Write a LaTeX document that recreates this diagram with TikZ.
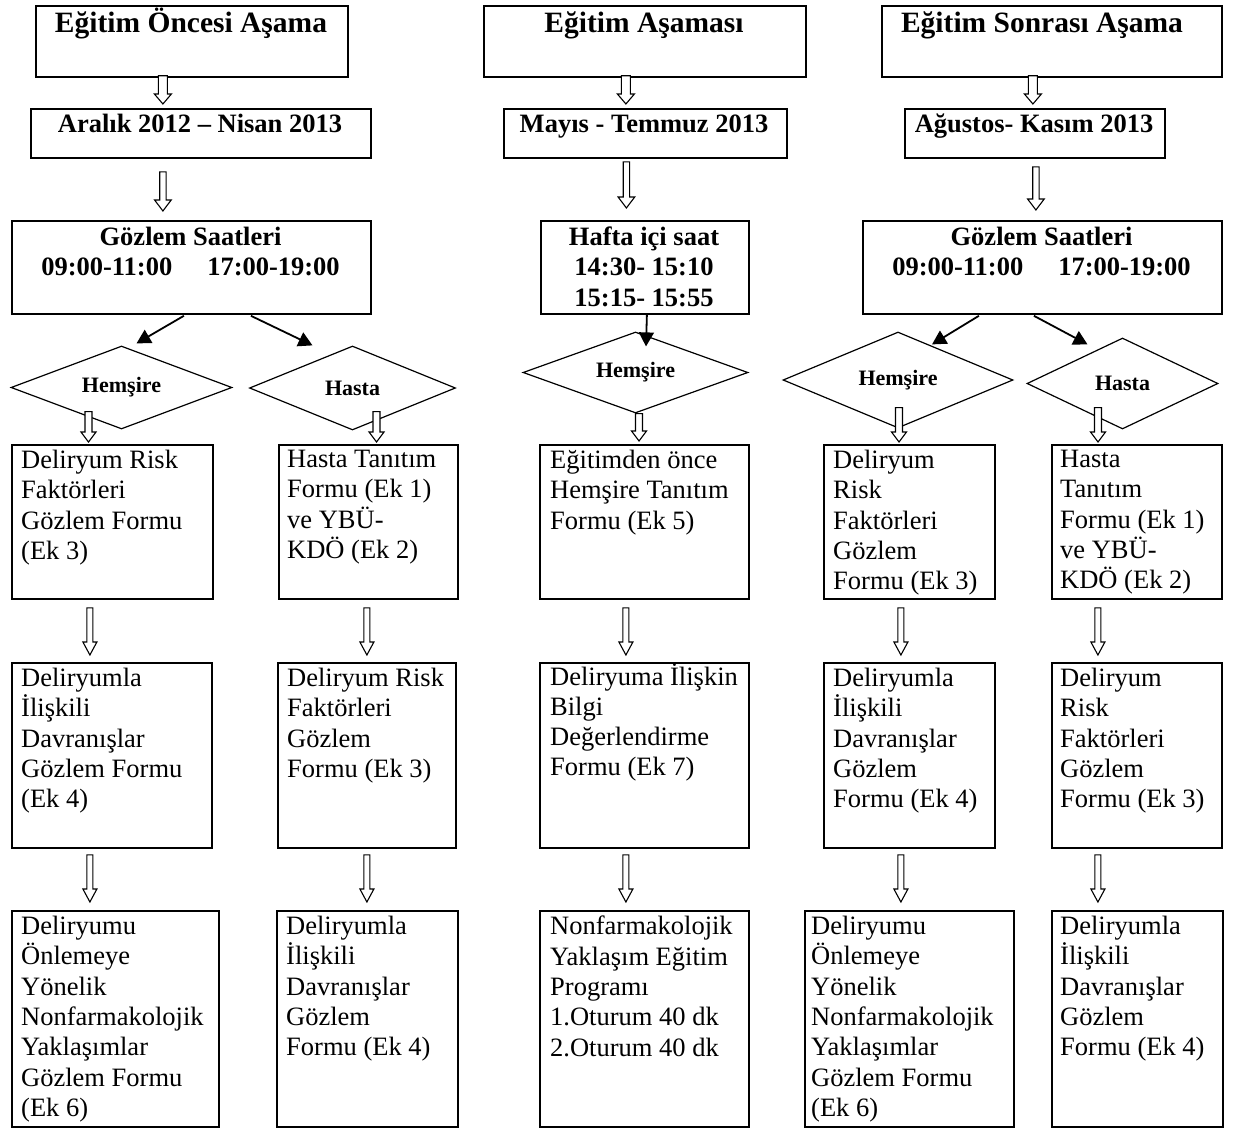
\documentclass[tikz,border=0pt]{standalone}
\usepackage{fontspec}
\setmainfont{Liberation Serif}
\usetikzlibrary{calc,arrows.meta,shapes.geometric}
\begin{document}
\begin{tikzpicture}[x=1pt,y=-1pt,
 box/.style={draw, line width=1.8pt, inner sep=0pt, anchor=north west},
 body/.style={anchor=north west, inner sep=0pt, align=left, font=\fontsize{26.5}{30.3}\selectfont},
 ttl/.style={anchor=base, inner sep=0pt, font=\fontsize{29.5}{31}\selectfont\bfseries},
 hd/.style={anchor=base, inner sep=0pt, font=\fontsize{26.5}{30.3}\selectfont\bfseries},
 dia/.style={draw, diamond, line width=1.2pt, inner sep=0pt, aspect=2.6, font=\fontsize{22}{24}\selectfont\bfseries},
 fa/.style={line width=1.8pt, -{Triangle[length=14pt,width=15pt]}},
 hollow/.style n args={3}{line width=1.1pt, fill=white, to path={let \p1=(\tikztostart), \p2=(\tikztotarget) in (\x1-#1,\y1) -- (\x1+#1,\y1) -- (\x1+#1,\y2+#3) -- (\x1+#2,\y2+#3) -- (\x1,\y2) -- (\x1-#2,\y2+#3) -- (\x1-#1,\y2+#3) -- cycle}},
]
\fill[white] (0,0) rectangle (1234,1129);
\useasboundingbox (0,0) rectangle (1234,1129);

% ---------------- Column 1 ----------------
\node[box, minimum width=312pt, minimum height=71pt] (t1) at (35,5) {};
\node[ttl] (t1t) at (191,33) {Eğitim Öncesi Aşama};
\node[box, minimum width=340pt, minimum height=49pt] (d1) at (30,108) {};
\node[hd] (d1t) at (200,133) {Aralık 2012 – Nisan 2013};
\node[box, minimum width=359pt, minimum height=93pt] (g1) at (11,220) {};
\node[hd] (g1a) at (190.5,245) {Gözlem Saatleri};
\node[hd] (g1b) at (190.5,275) {09:00-11:00\hspace{35pt}17:00-19:00};
\node[dia, minimum width=221pt, minimum height=83pt] (h1) at (121.5,387.5) {Hemşire};
\node[dia, minimum width=206pt, minimum height=84pt] (p1) at (352.5,388) {Hasta};
\node[box, minimum width=201pt, minimum height=154pt] (b11) at (11,444) {};
\node[body] at ($(b11.north west)+(10,6)$) {Deliryum Risk\\Faktörleri\\Gözlem Formu\\(Ek 3)};
\node[box, minimum width=179pt, minimum height=154pt] (b12) at (278,444) {};
\node[body] at ($(b12.north west)+(9,6)$) {Hasta Tanıtım\\Formu (Ek 1)\\ve YBÜ-\\KDÖ (Ek 2)};
\node[box, minimum width=200pt, minimum height=185pt] (b21) at (11,662) {};
\node[body] at ($(b21.north west)+(10,6)$) {Deliryumla\\İlişkili\\Davranışlar\\Gözlem Formu\\(Ek 4)};
\node[box, minimum width=178pt, minimum height=185pt] (b22) at (277,662) {};
\node[body] at ($(b22.north west)+(10,6)$) {Deliryum Risk\\Faktörleri\\Gözlem\\Formu (Ek 3)};
\node[box, minimum width=207pt, minimum height=216pt] (b31) at (11,910) {};
\node[body] at ($(b31.north west)+(10,6)$) {Deliryumu\\Önlemeye\\Yönelik\\Nonfarmakolojik\\Yaklaşımlar\\Gözlem Formu\\(Ek 6)};
\node[box, minimum width=181pt, minimum height=216pt] (b32) at (276,910) {};
\node[body] at ($(b32.north west)+(10,6)$) {Deliryumla\\İlişkili\\Davranışlar\\Gözlem\\Formu (Ek 4)};

\draw[hollow={4.5pt}{8.5pt}{10pt}] ($(t1.south)+(-29,-2)$) to ($(d1.north)+(0,-4)$);
\draw[hollow={3.2pt}{8.3pt}{11pt}] ($(d1.south)+(-38,13)$) to ($(g1.north)+(0,-9)$);
\draw[fa] ($(g1.south)+(-7.5,1)$) -- ($(h1.north)+(15,-2)$);
\draw[fa] ($(g1.south)+(59.5,1)$) -- ($(p1.north)+(-40,0)$);
\draw[hollow={3.5pt}{7.5pt}{10pt}] ($(h1.south)+(-33,-18)$) to ($(b11.north)+(0,-2)$);
\draw[hollow={3.5pt}{7.5pt}{10pt}] ($(p1.south)+(24,-19)$) to ($(b12.north)+(0,-2)$);
\draw[hollow={3pt}{7pt}{13pt}] ($(b11.south)+(-22.5,8)$) to ($(b21.north)+(0,-7)$);
\draw[hollow={3pt}{7pt}{13pt}] ($(b12.south)+(-1.5,8)$) to ($(b22.north)+(0,-7)$);
\draw[hollow={3pt}{7pt}{13pt}] ($(b21.south)+(-22,6)$) to ($(b31.north)+(0,-8)$);
\draw[hollow={3pt}{7pt}{13pt}] ($(b22.south)+(0,6)$) to ($(b32.north)+(0,-8)$);

% ---------------- Column 2 ----------------
\node[box, minimum width=322pt, minimum height=71pt] (t2) at (483,5) {};
\node[ttl] (t2t) at (644,33) {Eğitim Aşaması};
\node[box, minimum width=283pt, minimum height=49pt] (d2) at (503,108) {};
\node[hd] (d2t) at (644,133) {Mayıs - Temmuz 2013};
\node[box, minimum width=208pt, minimum height=93pt] (g2) at (540,220) {};
\node[hd] (g2a) at (644,245) {Hafta içi saat};
\node[hd] (g2b) at (644,275) {14:30- 15:10};
\node[hd] (g2c) at (644,306) {15:15- 15:55};
\node[dia, minimum width=225pt, minimum height=81pt] (h2) at (635.5,372.5) {Hemşire};
\node[box, minimum width=209pt, minimum height=154pt] (e1) at (539,444) {};
\node[body] at ($(e1.north west)+(11,6)$) {Eğitimden önce\\Hemşire Tanıtım\\Formu (Ek 5)};
\node[box, minimum width=209pt, minimum height=185pt] (e2) at (539,662) {};
\node[body] at ($(e2.north west)+(11,1)$) {Deliryuma İlişkin\\Bilgi\\Değerlendirme\\Formu (Ek 7)};
\node[box, minimum width=209pt, minimum height=216pt] (e3) at (539,910) {};
\node[body] at ($(e3.north west)+(11,6)$) {Nonfarmakolojik\\Yaklaşım Eğitim\\Programı\\1.Oturum 40 dk\\2.Oturum 40 dk};

\draw[hollow={4.5pt}{8.5pt}{10pt}] ($(t2.south)+(-19,-2)$) to ($(d2.north)+(0,-4)$);
\draw[hollow={3.2pt}{8.3pt}{11pt}] ($(d2.south)+(-19,3)$) to ($(g2.north)+(0,-12)$);
\draw[fa] ($(g2.south)+(2,0)$) -- ($(h2.north)+(10.5,15)$);
\draw[hollow={3.5pt}{7.5pt}{10pt}] ($(h2.south)+(3.5,0)$) to ($(e1.north)+(0,-3)$);
\draw[hollow={3pt}{7pt}{13pt}] ($(e1.south)+(-18.5,8)$) to ($(e2.north)+(0,-7)$);
\draw[hollow={3pt}{7pt}{13pt}] ($(e2.south)+(-18.5,6)$) to ($(e3.north)+(0,-8)$);

% ---------------- Column 3 ----------------
\node[box, minimum width=340pt, minimum height=71pt] (t3) at (881,5) {};
\node[ttl] (t3t) at (1042,33) {Eğitim Sonrası Aşama};
\node[box, minimum width=260pt, minimum height=49pt] (d3) at (904,108) {};
\node[hd] (d3t) at (1034,133) {Ağustos- Kasım 2013};
\node[box, minimum width=359pt, minimum height=93pt] (g3) at (862,220) {};
\node[hd] (g3a) at (1041.5,245) {Gözlem Saatleri};
\node[hd] (g3b) at (1041.5,275) {09:00-11:00\hspace{35pt}17:00-19:00};
\node[dia, minimum width=230pt, minimum height=96pt] (h3) at (898,380) {Hemşire};
\node[dia, minimum width=191pt, minimum height=91pt] (p3) at (1122.5,383.5) {Hasta};
\node[box, minimum width=171pt, minimum height=154pt] (c11) at (823,444) {};
\node[body] at ($(c11.north west)+(10,6)$) {Deliryum\\Risk\\Faktörleri\\Gözlem\\Formu (Ek 3)};
\node[box, minimum width=170pt, minimum height=154pt] (c12) at (1051,444) {};
\node[body] at ($(c12.north west)+(9,6)$) {Hasta\\Tanıtım\\Formu (Ek 1)\\ve YBÜ-\\KDÖ (Ek 2)};
\node[box, minimum width=171pt, minimum height=185pt] (c21) at (823,662) {};
\node[body] at ($(c21.north west)+(10,6)$) {Deliryumla\\İlişkili\\Davranışlar\\Gözlem\\Formu (Ek 4)};
\node[box, minimum width=170pt, minimum height=185pt] (c22) at (1051,662) {};
\node[body] at ($(c22.north west)+(9,6)$) {Deliryum\\Risk\\Faktörleri\\Gözlem\\Formu (Ek 3)};
\node[box, minimum width=209pt, minimum height=216pt] (c31) at (804,910) {};
\node[body] at ($(c31.north west)+(7,6)$) {Deliryumu\\Önlemeye\\Yönelik\\Nonfarmakolojik\\Yaklaşımlar\\Gözlem Formu\\(Ek 6)};
\node[box, minimum width=171pt, minimum height=216pt] (c32) at (1051,910) {};
\node[body] at ($(c32.north west)+(9,6)$) {Deliryumla\\İlişkili\\Davranışlar\\Gözlem\\Formu (Ek 4)};

\draw[hollow={4.5pt}{8.5pt}{10pt}] ($(t3.south)+(-19,-2)$) to ($(d3.north)+(0,-4)$);
\draw[hollow={3.2pt}{8.3pt}{11pt}] ($(d3.south)+(1,8)$) to ($(g3.north)+(0,-10)$);
\draw[fa] ($(g3.south)+(-63.5,1)$) -- ($(h3.north)+(34,13)$);
\draw[fa] ($(g3.south)+(-8.5,1)$) -- ($(p3.north)+(-35,7)$);
\draw[hollow={3.5pt}{7.5pt}{10pt}] ($(h3.south)+(1,-21)$) to ($(c11.north)+(0,-2)$);
\draw[hollow={3.5pt}{7.5pt}{10pt}] ($(p3.south)+(-24.5,-22)$) to ($(c12.north)+(0,-2)$);
\draw[hollow={3pt}{7pt}{13pt}] ($(c11.south)+(-8.5,8)$) to ($(c21.north)+(0,-7)$);
\draw[hollow={3pt}{7pt}{13pt}] ($(c12.south)+(-39,8)$) to ($(c22.north)+(0,-7)$);
\draw[hollow={3pt}{7pt}{13pt}] ($(c21.south)+(-8.5,6)$) to ($(c31.north)+(0,-8)$);
\draw[hollow={3pt}{7pt}{13pt}] ($(c22.south)+(-39,6)$) to ($(c32.north)+(0,-8)$);
\end{tikzpicture}
\end{document}
